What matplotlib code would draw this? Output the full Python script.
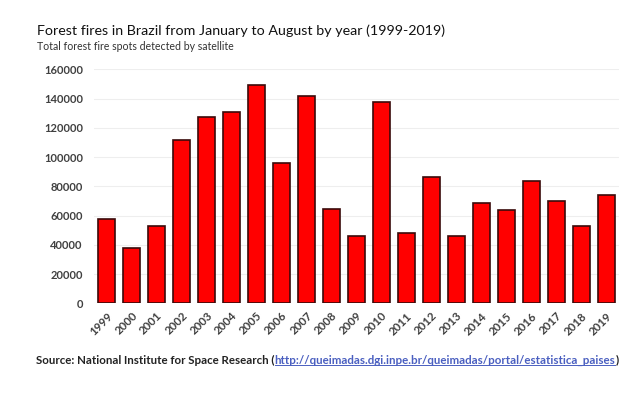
import matplotlib
matplotlib.use("Agg")
import matplotlib.pyplot as plt
from matplotlib.lines import Line2D

years = ["1999", "2000", "2001", "2002", "2003", "2004", "2005", "2006", "2007", "2008",
         "2009", "2010", "2011", "2012", "2013", "2014", "2015", "2016", "2017", "2018", "2019"]
fires = [57400, 38000, 52900, 111700, 127600, 130800, 149300, 96200, 142000, 64300,
         46000, 137900, 47900, 86400, 46000, 68700, 64000, 83900, 70000, 52900, 74300]
yticks = [0, 20000, 40000, 60000, 80000, 100000, 120000, 140000, 160000]

title = "Forest fires in Brazil from January to August by year (1999-2019)"
subtitle = "Total forest fire spots detected by satellite"
source_prefix = "Source: National Institute for Space Research ("
source_link = "http://queimadas.dgi.inpe.br/queimadas/portal/estatistica_paises"
source_suffix = ")"

plt.rcParams['font.family'] = ['Lato', 'DejaVu Sans']

W, H = 641, 399
fig = plt.figure(figsize=(W / 100, H / 100), dpi=100)
ax = fig.add_axes([94 / W, 1 - 303.3 / H, (619 - 94) / W, (303.3 - 69.3) / H])

x = list(range(len(years)))
ax.bar(x, fires, width=0.71, color="#ff0000", edgecolor="#3a0a0a", linewidth=1.2, zorder=3)
ax.set_xlim(-0.5, len(years) - 0.5)
ax.set_ylim(0, 160000)
ax.set_yticks(yticks)
ax.set_yticklabels([str(v) for v in yticks], fontsize=8, fontweight="bold", color="#404040")
ax.set_xticks(x)
ax.set_xticklabels(years, rotation=45, ha="right", rotation_mode="anchor",
                   fontsize=8.3, fontweight="bold", color="#404040")
ax.tick_params(axis="both", length=0)
ax.tick_params(axis="y", pad=8)
ax.tick_params(axis="x", pad=5)
for s in ax.spines.values():
    s.set_visible(False)
ax.grid(axis="y", color="#eeeeee", linewidth=0.8, zorder=0)
ax.set_axisbelow(True)

fig.text(37 / W, 1 - 31 / H, title, fontsize=10.25, color="#111111", va="center", ha="left")
fig.text(37 / W, 1 - 46 / H, subtitle, fontsize=7.6, color="#333333", va="center", ha="left")

fig.canvas.draw()
r = fig.canvas.get_renderer()
ys = 1 - 360 / H
fs = 8.25
t1 = fig.text(36 / W, ys, source_prefix, fontsize=fs, fontweight="bold", color="#222222", va="center", ha="left")
bb = t1.get_window_extent(r)
t2 = fig.text(bb.x1 / W, ys, source_link, fontsize=fs, fontweight="bold", color="#4a5fc0", va="center", ha="left")
bb2 = t2.get_window_extent(r)
fig.text(bb2.x1 / W, ys, source_suffix, fontsize=fs, fontweight="bold", color="#222222", va="center", ha="left")
uy = (bb2.y0 + 1) / H
fig.add_artist(Line2D([bb2.x0 / W, bb2.x1 / W], [uy, uy], color="#4a5fc0", linewidth=0.7))

fig.savefig("out.png", dpi=100)
